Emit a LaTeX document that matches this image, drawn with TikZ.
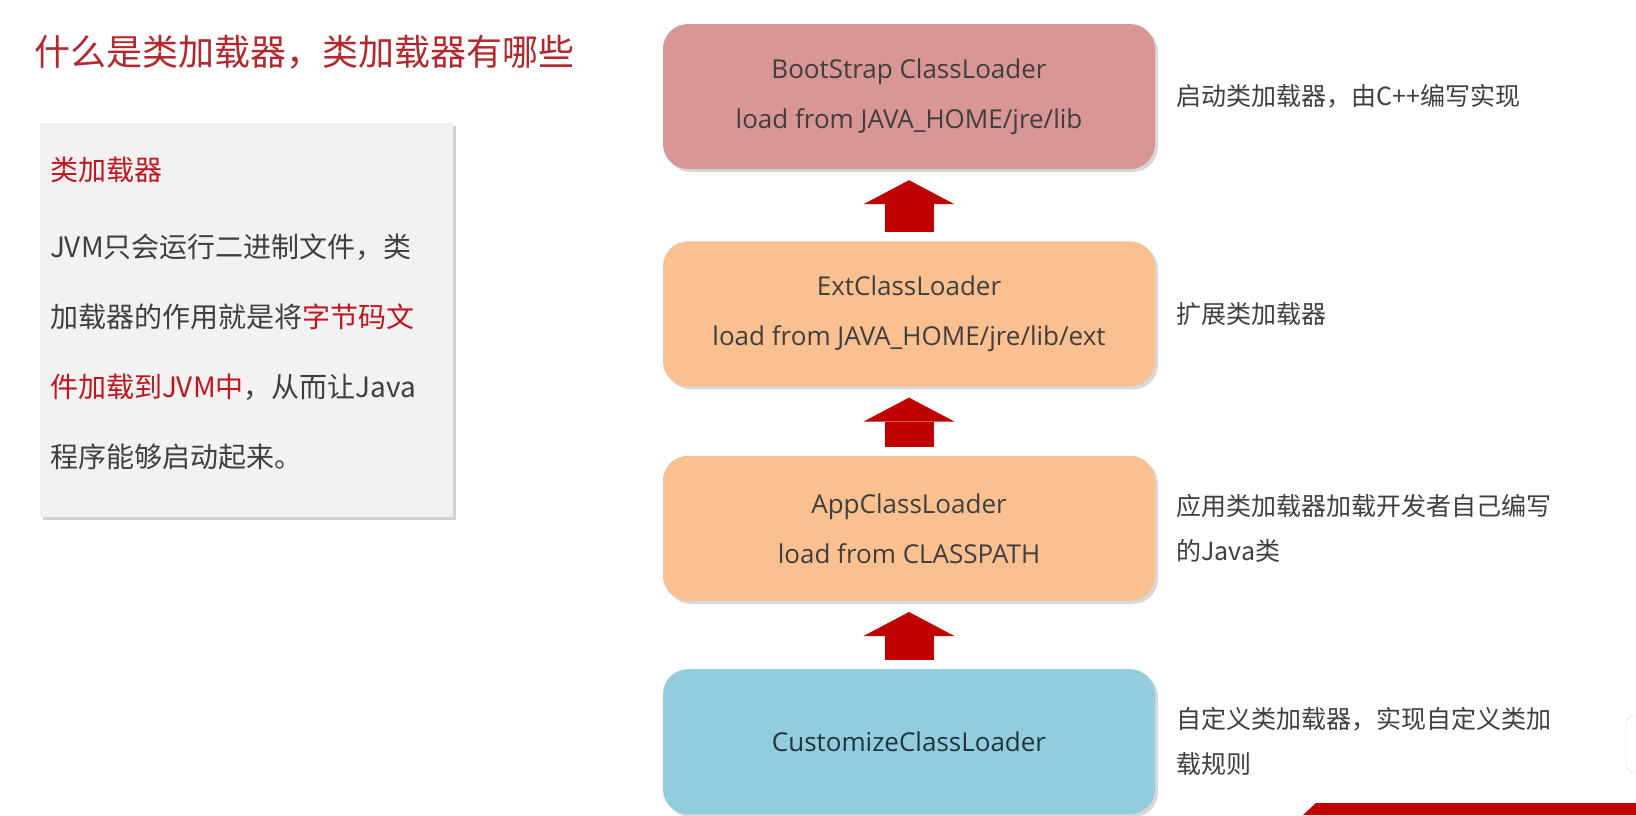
\documentclass[tikz,border=0pt]{standalone}
\usepackage{fontspec}
\setmainfont{Noto Sans CJK SC}
\newfontfamily\latinfont{Open Sans}
\usetikzlibrary{positioning,shadows,arrows.meta}

\definecolor{titlered}{HTML}{B3282D}
\definecolor{keyred}{HTML}{C0141E}
\definecolor{bootfill}{HTML}{D99694}
\definecolor{extfill}{HTML}{FAC090}
\definecolor{custfill}{HTML}{93CDDD}
\definecolor{arrowred}{HTML}{C00000}
\definecolor{textgray}{HTML}{3F3F3F}
\definecolor{custtext}{HTML}{1F3540}
\definecolor{boxgray}{HTML}{F2F2F2}

\begin{document}
\begin{tikzpicture}[x=1pt, y=-1pt,
    loader/.style={rounded corners=25pt, minimum width=492pt, minimum height=145pt,
        align=center, inner sep=0pt, text=textgray,
        font=\latinfont\fontsize{26}{50}\selectfont,
        drop shadow={shadow xshift=3pt, shadow yshift=-3pt, opacity=0.3}},
    note/.style={anchor=west, align=left, inner sep=0pt, text=textgray,
        font=\fontsize{25}{45}\selectfont},
    infobox/.style={fill=boxgray, minimum width=413pt, minimum height=394pt,
        inner sep=0pt, drop shadow={shadow xshift=3pt, shadow yshift=-3pt, opacity=0.35}},
    uparrow/.style={arrowred, line width=49pt, shorten <=9pt, shorten >=11pt,
        -{Triangle[width=91pt, length=24pt, line width=0pt]}}]

    % Page size and background
    \useasboundingbox (0,0) rectangle (1636,815);
    \fill[white] (0,0) rectangle (1636,815);

    % Title
    \node[anchor=west, inner sep=0pt, text=titlered, font=\fontsize{36}{40}\selectfont] (title) at (34,52) {什么是类加载器，类加载器有哪些};

    % Left info box
    \node[infobox] (intro) at (246.5,320) {};
    \node[anchor=west, align=left, inner sep=0pt, text=textgray, font=\fontsize{28}{70}\selectfont] (introtext) at ([xshift=10pt, yshift=6.5pt]intro.west)
        {{\color{keyred}类加载器}\\[7pt]
         JVM只会运行二进制文件，类\\
         加载器的作用就是将{\color{keyred}字节码文}\\
         {\color{keyred}件加载到JVM中}，从而让Java\\
         程序能够启动起来。};

    % Class loader boxes
    \node[loader, fill=bootfill] (boot) at (909,96.5) {BootStrap ClassLoader\\load from JAVA\_HOME/jre/lib};
    \node[loader, fill=extfill, below=72pt of boot] (ext) {ExtClassLoader\\load from JAVA\_HOME/jre/lib/ext};
    \node[loader, fill=extfill, below=69pt of ext] (app) {AppClassLoader\\load from CLASSPATH};
    \node[loader, fill=custfill, text=custtext, below=68pt of app] (cust) {CustomizeClassLoader};

    % Arrows (delegation upwards)
    \draw[uparrow] (ext.north) -- (boot.south);
    \draw[uparrow] (app.north) -- (ext.south);
    \draw[uparrow] (cust.north) -- (app.south);

    % Notes on the right
    \node[note, right=21pt of boot] (bootnote) {启动类加载器，由C++编写实现};
    \node[note, right=21pt of ext] (extnote) {扩展类加载器};
    \node[note, right=21pt of app] (appnote) {应用类加载器加载开发者自己编写\\的Java类};
    \node[note, right=21pt of cust] (custnote) {自定义类加载器，实现自定义类加\\载规则};

    % Bottom right banner and side tab
    \fill[arrowred] (1303,815) -- (1316,803) -- (1636,803) -- (1636,815) -- cycle;
    \draw[gray!30, fill=white, rounded corners=8pt] (1626,716) rectangle (1660,772);
\end{tikzpicture}
\end{document}
